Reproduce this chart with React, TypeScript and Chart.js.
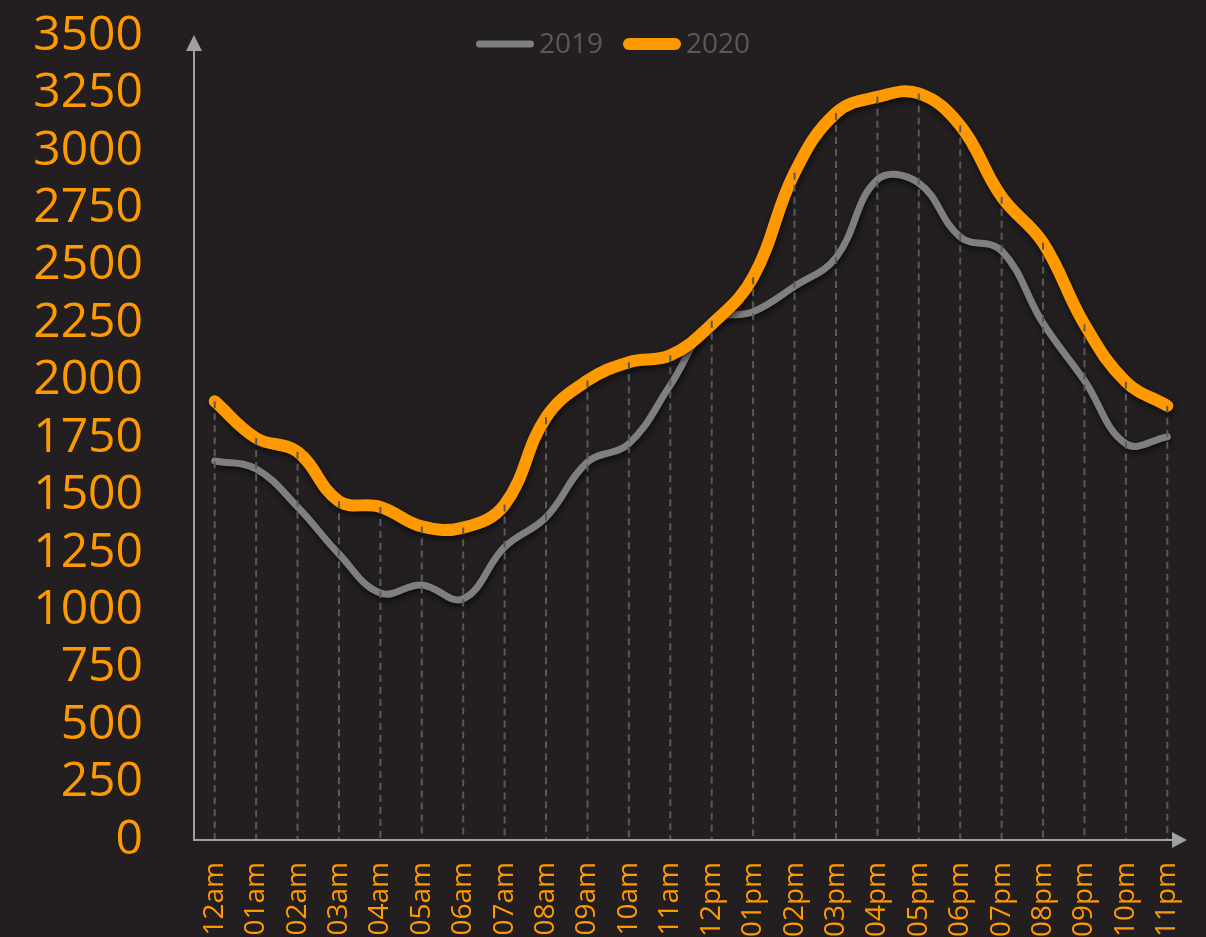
import { useEffect, useRef } from 'react';
import { Chart, registerables } from 'chart.js';
Chart.register(...registerables);

const hours = ['12am', '01am', '02am', '03am', '04am', '05am', '06am', '07am', '08am', '09am', '10am', '11am',
  '12pm', '01pm', '02pm', '03pm', '04pm', '05pm', '06pm', '07pm', '08pm', '09pm', '10pm', '11pm'];
const values2019 = [1650, 1615, 1450, 1245, 1075, 1110, 1050, 1275, 1405, 1645, 1725, 1980,
  2260, 2300, 2410, 2535, 2875, 2860, 2625, 2565, 2250, 2000, 1725, 1755];
const values2020 = [1910, 1750, 1690, 1475, 1450, 1365, 1360, 1460, 1840, 2000, 2080, 2110,
  2245, 2450, 2905, 3165, 3235, 3250, 3110, 2800, 2600, 2245, 1995, 1890];
const seriesNames = ['2019', '2020'];

const BG = '#231f20';
const ORANGE = '#ff9900';
const GRAY = '#7f7f7f';
const AXIS = '#a0a0a0';
const FONT = "'Open Sans', 'Noto Sans', sans-serif";

const shadowPlugin = {
  id: 'lineShadow',
  beforeDatasetDraw(chart: any) {
    const ctx = chart.ctx;
    ctx.save();
    ctx.shadowColor = 'rgba(0,0,0,0.65)';
    ctx.shadowBlur = 6;
    ctx.shadowOffsetX = 1;
    ctx.shadowOffsetY = 3;
  },
  afterDatasetDraw(chart: any) {
    chart.ctx.restore();
  },
};

const dropLinePlugin = {
  id: 'dropLines',
  afterDatasetsDraw(chart: any) {
    const ctx = chart.ctx;
    const ca = chart.chartArea;
    const m0 = chart.getDatasetMeta(0).data;
    const m1 = chart.getDatasetMeta(1).data;
    ctx.save();
    ctx.strokeStyle = '#595959';
    ctx.lineWidth = 2;
    ctx.setLineDash([7, 5]);
    for (let i = 0; i < m0.length; i++) {
      const x = m0[i].x;
      const top = Math.min(m0[i].y, m1[i].y);
      ctx.beginPath();
      ctx.moveTo(x, top);
      ctx.lineTo(x, ca.bottom);
      ctx.stroke();
    }
    ctx.restore();
  },
};

const axesPlugin = {
  id: 'arrowAxes',
  afterDraw(chart: any) {
    const ctx = chart.ctx;
    const ca = chart.chartArea;
    const x0 = ca.left;
    const y0 = ca.bottom;
    ctx.save();
    ctx.strokeStyle = AXIS;
    ctx.fillStyle = AXIS;
    ctx.lineWidth = 2;
    ctx.beginPath();
    ctx.moveTo(x0, y0);
    ctx.lineTo(x0, ca.top + 14);
    ctx.moveTo(x0 - 1, y0);
    ctx.lineTo(ca.right - 15, y0);
    ctx.stroke();
    ctx.beginPath();
    ctx.moveTo(x0, ca.top - 1);
    ctx.lineTo(x0 - 8, ca.top + 15);
    ctx.lineTo(x0 + 8, ca.top + 15);
    ctx.closePath();
    ctx.fill();
    ctx.beginPath();
    ctx.moveTo(ca.right - 1, y0);
    ctx.lineTo(ca.right - 16, y0 - 8);
    ctx.lineTo(ca.right - 16, y0 + 8);
    ctx.closePath();
    ctx.fill();
    ctx.restore();
  },
};

const legendPlugin = {
  id: 'customLegend',
  afterDraw(chart: any) {
    const ctx = chart.ctx;
    const items = chart.data.datasets.map((d: any) => ({ label: d.label, color: d.borderColor, width: d.borderWidth }));
    const lineLen = 58;
    const gap = 5;
    const itemGap = 20;
    ctx.save();
    ctx.font = `28px ${FONT}`;
    let total = 0;
    items.forEach((it: any, i: number) => {
      total += lineLen + gap + ctx.measureText(it.label).width + (i < items.length - 1 ? itemGap : 0);
    });
    let x = 613 - total / 2;
    const y = 44;
    items.forEach((it: any) => {
      ctx.strokeStyle = it.color;
      ctx.lineWidth = it.width;
      ctx.lineCap = 'round';
      ctx.beginPath();
      ctx.moveTo(x + it.width / 2, y);
      ctx.lineTo(x + lineLen - it.width / 2, y);
      ctx.stroke();
      x += lineLen + gap;
      ctx.fillStyle = '#595959';
      ctx.textBaseline = 'middle';
      ctx.textAlign = 'left';
      ctx.fillText(it.label, x, y + 1);
      x += ctx.measureText(it.label).width + itemGap;
    });
    ctx.restore();
  },
};

export default function App() {
  const ref = useRef<HTMLCanvasElement>(null);
  useEffect(() => {
    document.body.style.margin = '0';
    document.body.style.background = BG;
    const chart = new Chart(ref.current!, {
      type: 'line',
      data: {
        labels: hours,
        datasets: [
          {
            label: seriesNames[0],
            data: values2019,
            borderColor: GRAY,
            backgroundColor: GRAY,
            borderWidth: 7,
            tension: 0.4,
            pointRadius: 0,
            borderCapStyle: 'round',
            borderJoinStyle: 'round',
            order: 2,
          },
          {
            label: seriesNames[1],
            data: values2020,
            borderColor: ORANGE,
            backgroundColor: ORANGE,
            borderWidth: 12,
            tension: 0.4,
            pointRadius: 0,
            borderCapStyle: 'round',
            borderJoinStyle: 'round',
            order: 1,
          },
        ],
      },
      options: {
        responsive: false,
        animation: false,
        layout: { padding: { top: 36, right: 18, left: 0, bottom: 0 } },
        plugins: { legend: { display: false }, tooltip: { enabled: false } },
        scales: {
          x: {
            type: 'category',
            offset: true,
            grid: { display: false, drawTicks: false },
            border: { display: false },
            ticks: {
              color: ORANGE,
              font: { family: FONT, size: 28 },
              minRotation: 90,
              maxRotation: 90,
              autoSkip: false,
              padding: 22,
            },
            afterFit: (s: any) => {
              s.height = 97;
              s.paddingLeft = 0;
              s.paddingRight = 0;
              s.paddingTop = 0;
              s.paddingBottom = 0;
            },
          },
          y: {
            min: 0,
            max: 3500,
            grid: { display: false, drawTicks: false },
            border: { display: false },
            ticks: {
              stepSize: 250,
              autoSkip: false,
              color: ORANGE,
              font: { family: FONT, size: 48 },
              padding: 51,
              callback: (v: any) => String(v),
            },
            afterFit: (s: any) => {
              s.width = 194;
              s.paddingLeft = 0;
              s.paddingRight = 0;
              s.paddingTop = 0;
              s.paddingBottom = 0;
            },
          },
        },
      },
      plugins: [shadowPlugin, dropLinePlugin, axesPlugin, legendPlugin],
    });
    return () => chart.destroy();
  }, []);
  return (
    <div style={{ width: 1206, height: 937, background: BG }}>
      <canvas ref={ref} width={1206} height={937} style={{ display: 'block' }} />
    </div>
  );
}
